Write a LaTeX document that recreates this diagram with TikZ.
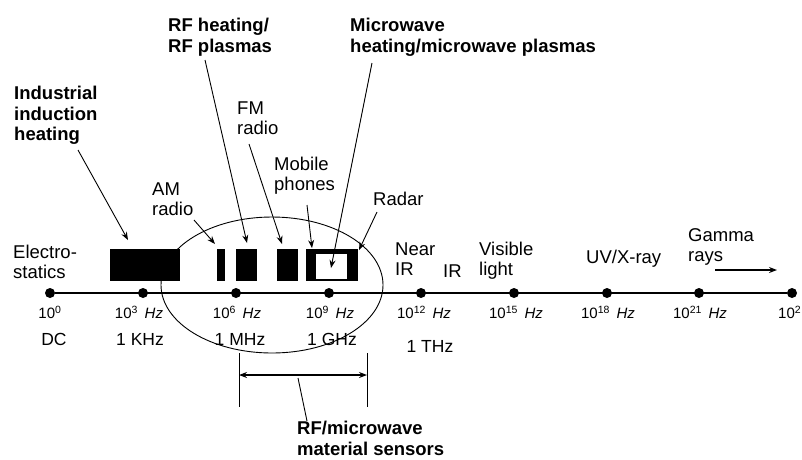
\documentclass[tikz,border=0pt]{standalone}
\usepackage{fontspec}
\setmainfont{Liberation Sans}
\usetikzlibrary{arrows.meta}
\tikzset{
  lbl/.style={align=left, inner sep=0pt, anchor=north west, font=\fontsize{18.5}{20}\selectfont},
  boldlbl/.style={lbl, font=\fontsize{18.5}{20.5}\selectfont\bfseries},
  freq/.style={inner sep=0pt, anchor=north, font=\fontsize{15}{16}\selectfont},
  unit/.style={inner sep=0pt, anchor=north, font=\fontsize{17.5}{19}\selectfont},
  pointer/.style={-{Stealth[length=8pt,width=6pt]}, line width=0.9pt},
  tickdot/.style={circle, fill=black, inner sep=0pt, minimum size=10pt}
}

\begin{document}
\begin{tikzpicture}[x=1pt, y=-1pt]
\useasboundingbox (0,0) rectangle (802,459);

\draw [line width=0.9pt] (272,285) ellipse [x radius=111, y radius=68];

\fill (110,249) rectangle (180,281);
\fill (217,249) rectangle (225,281);
\fill (236,249) rectangle (257,281);
\fill (277,249) rectangle (298,281);
\fill (306,249) rectangle (358,281);
\draw [fill=white, line width=0.6pt] (315,253) rectangle (347,279);

\foreach \p/\x in {0/50,3/143,6/236,9/329,12/421,15/514,18/607,21/699,24/792}
  \node [tickdot] (d\p) at (\x,293) {};
\draw [line width=1.3pt] (d0) -- (d24);

\node [freq] (f0) at (50,306) {10\textsuperscript{0}};
\node [freq] (f3) at (139,306) {10\textsuperscript{3}\,\ \textit{Hz}};
\node [freq] (f6) at (237,306) {10\textsuperscript{6}\,\ \textit{Hz}};
\node [freq] (f9) at (330,306) {10\textsuperscript{9}\,\ \textit{Hz}};
\node [freq] (f12) at (424,306) {10\textsuperscript{12}\,\ \textit{Hz}};
\node [freq] (f15) at (516,306) {10\textsuperscript{15}\,\ \textit{Hz}};
\node [freq] (f18) at (608,306) {10\textsuperscript{18}\,\ \textit{Hz}};
\node [freq] (f21) at (700,306) {10\textsuperscript{21}\,\ \textit{Hz}};
\node [freq, anchor=north west] (f24) at (778,306) {10\textsuperscript{2}};

\node [unit] (dc) at (54,333) {DC};
\node [unit] (khz) at (140,333) {1 KHz};
\node [unit] (mhz) at (240,333) {1 MHz};
\node [unit] (ghz) at (332,333) {1 GHz};
\node [unit] (thz) at (430,340) {1 THz};

\node [boldlbl] (ind) at (14,86) {Industrial\\induction\\heating};
\node [boldlbl] (rfh) at (168,18) {RF heating/\\RF plasmas};
\node [boldlbl] (mwh) at (350,18) {Microwave\\heating/microwave plasmas};
\node [lbl] (fm) at (237,102) {FM\\radio};
\node [lbl] (mob) at (274,157) {Mobile\\phones};
\node [lbl] (am) at (152,183) {AM\\radio};
\node [lbl] (radar) at (373,192) {Radar};
\node [lbl] (es) at (13,245) {Electro-\\statics};
\node [lbl] (nir) at (395,243) {Near\\IR};
\node [lbl] (ir) at (443,265) {IR};
\node [lbl] (vis) at (479,242) {Visible\\light};
\node [lbl] (uvx) at (586,250) {UV/X-ray};
\node [lbl] (gam) at (688,228) {Gamma\\rays};
\node [boldlbl] (sens) at (297,421) {RF/microwave\\material sensors};

\coordinate (ind-t) at (78,150);   \coordinate (ind-h) at (128,240);
\coordinate (rfh-t) at (205,60);   \coordinate (rfh-h) at (247,243);
\coordinate (fm-t) at (249,144);   \coordinate (fm-h) at (282,244);
\coordinate (mob-t) at (307,205);  \coordinate (mob-h) at (312,248);
\coordinate (am-t) at (194,220);   \coordinate (am-h) at (215,244);
\coordinate (mwh-t) at (372,63);   \coordinate (mwh-h) at (331,268);
\coordinate (radar-t) at (377,212); \coordinate (radar-h) at (359,250);
\coordinate (gam-t) at (715,270);  \coordinate (gam-h) at (777,270);

\draw [pointer] (ind-t) -- (ind-h);
\draw [pointer] (rfh-t) -- (rfh-h);
\draw [pointer] (fm-t) -- (fm-h);
\draw [pointer] (mob-t) -- (mob-h);
\draw [pointer] (am-t) -- (am-h);
\draw [pointer] (mwh-t) -- (mwh-h);
\draw [pointer] (radar-t) -- (radar-h);
\draw [pointer, line width=1.4pt] (gam-t) -- (gam-h);

\coordinate (bl) at (239,375);
\coordinate (br) at (367,375);
\draw [line width=0.9pt] (239,353) -- (239,407) (367,353) -- (367,407);
\draw [pointer, line width=1.2pt, {Stealth[length=8pt,width=6pt]}-{Stealth[length=8pt,width=6pt]}] (bl) -- (br);
\coordinate (sens-t) at (298,378);
\draw [line width=0.9pt] (sens-t) -- (sens.north west -| 307,0);
\end{tikzpicture}
\end{document}
